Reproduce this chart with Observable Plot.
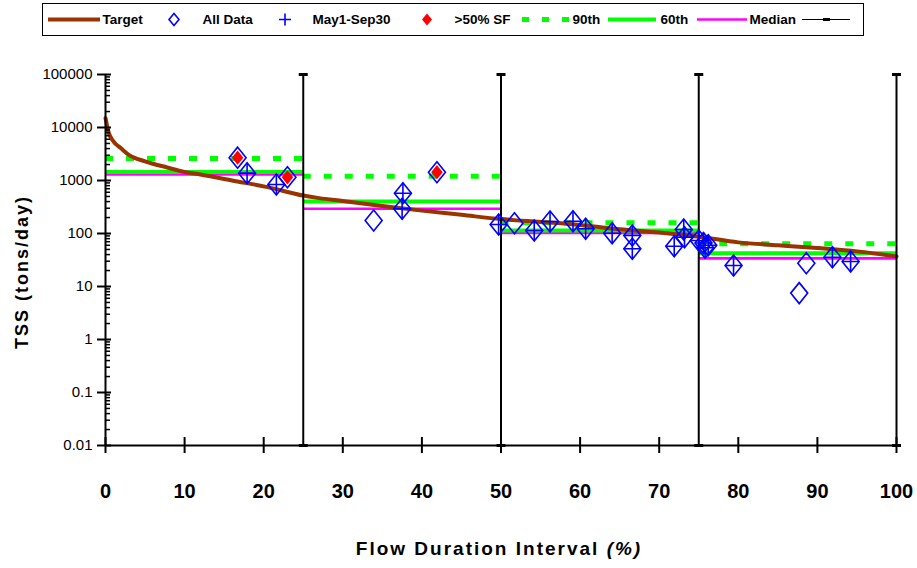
<!DOCTYPE html>
<html><head><meta charset="utf-8">
<script src="https://cdn.jsdelivr.net/npm/d3@7"></script>
<script src="https://cdn.jsdelivr.net/npm/@observablehq/plot@0.6"></script>
<style>
html,body{margin:0;padding:0;background:#fff;}
body{width:917px;height:568px;position:relative;overflow:hidden;font-family:"Liberation Sans",Arial,sans-serif;color:#000;}
#legend{position:absolute;left:42px;top:3px;width:820px;height:31px;border:1.5px solid #000;background:#fff;}
.li{position:absolute;top:0;height:31px;display:flex;align-items:center;font-weight:bold;font-size:13.5px;white-space:nowrap;}
.sw{position:absolute;top:0;}
#chart{position:absolute;left:0;top:40px;}
#xtitle{position:absolute;left:199px;width:600px;top:538px;text-align:center;font-weight:bold;font-size:19px;letter-spacing:2px;white-space:nowrap;}
#ytitle{position:absolute;left:22px;top:272px;transform:translate(-50%,-50%) rotate(-90deg);font-weight:bold;font-size:18px;letter-spacing:2px;white-space:nowrap;}
</style></head><body>
<div id="legend"></div>
<div id="chart"></div>
<div id="xtitle">Flow Duration Interval <i>(%)</i></div>
<div id="ytitle">TSS (tons/day)</div>
<script>
// ---- data ----
const xTicks = [0, 10, 20, 30, 40, 50, 60, 70, 80, 90, 100];
const yTicks = [0.01, 0.1, 1, 10, 100, 1000, 10000, 100000];
const zoneBounds = [25, 50, 75, 100];
const binStart = [0, 25, 50, 75];
const binEnd = [25, 50, 75, 100];
const p90 = [2600, 1200, 159, 64];
const p60 = [1450, 400, 114, 42.5];
const median = [1300, 293, 103, 34];
const targetFDI = [0, 0.4, 1, 2, 3, 5, 7.8, 10, 12, 16, 20.5, 25, 27, 30, 35, 40, 45, 50, 55, 60, 65, 70, 75, 80, 85, 90, 95, 100];
const targetTSS = [15000, 8000, 5500, 4000, 3000, 2300, 1760, 1450, 1300, 1000, 750, 520, 465, 410, 330, 270, 225, 187, 165, 145, 120, 104, 87, 68, 60, 53, 46, 37];
const obsFDI = [16.7, 17.9, 21.6, 23.0, 33.9, 37.6, 37.5, 41.9, 49.7, 51.7, 54.2, 56.2, 59.1, 60.7, 64.05, 66.6, 66.6, 71.9, 73.1, 73.2, 75.0, 75.6, 76.2, 75.8, 79.4, 87.7, 88.6, 91.9, 94.2];
const obsTSS = [2700, 1375, 840, 1150, 176, 576, 293, 1436, 148, 156, 114, 168, 170, 123, 101, 92, 51.5, 57.6, 119, 85, 74, 66, 60, 54, 24.9, 7.5, 27.5, 35.7, 29.6];
const obsMaySep = [0, 1, 1, 0, 0, 1, 1, 0, 1, 0, 1, 1, 1, 1, 1, 1, 1, 1, 1, 1, 1, 1, 1, 1, 1, 0, 0, 1, 1];
const obsHighSF = [1, 0, 0, 1, 0, 0, 0, 1, 0, 0, 0, 0, 0, 0, 0, 0, 0, 0, 0, 0, 0, 0, 0, 0, 0, 0, 0, 0, 0];

// ---- derived tables ----
const bins = binStart.map((s, i) => ({x1: s, x2: binEnd[i], p90: p90[i], p60: p60[i], med: median[i]}));
const target = targetFDI.map((x, i) => ({x, y: targetTSS[i]}));
const obs = obsFDI.map((x, i) => ({x, y: obsTSS[i], summer: obsMaySep[i], sf: obsHighSF[i]}));
const minorTicks = [];
for (let e = -2; e < 5; e++) for (let m = 2; m <= 9; m++) minorTicks.push(m * Math.pow(10, e));

// ---- custom symbols ----
const diamondSym = {draw(c, size) { const r = Math.sqrt(size / Math.PI); const w = r * 0.85, h = r * 1.05;
  c.moveTo(0, -h); c.lineTo(w, 0); c.lineTo(0, h); c.lineTo(-w, 0); c.closePath(); }};
const crossSym = {draw(c, size) { const r = Math.sqrt(size / Math.PI); const w = r * 0.85, h = r * 1.05;
  c.moveTo(0, -h); c.lineTo(0, h); c.moveTo(-w, 0); c.lineTo(w, 0); }};
const capSym = {draw(c, size) { const r = Math.sqrt(size / Math.PI); c.moveTo(-r, 0); c.lineTo(r, 0); }};

const BLUE = "#0000ff", RED = "#ff0000", GREEN = "#00ff00", MAG = "#ff00ff", BROWN = "#993300";

const chart = Plot.plot({
  width: 917, height: 528,
  marginLeft: 105, marginRight: 21, marginTop: 34, marginBottom: 123,
  style: {fontFamily: "'Liberation Sans', Arial, sans-serif", background: "white", color: "black", overflow: "visible"},
  x: {domain: [0, 100], axis: null},
  y: {type: "log", domain: [0.01, 100000], axis: null},
  marks: [
    Plot.ruleY(bins, {x1: "x1", x2: "x2", y: "med", stroke: MAG, strokeWidth: 2.7}),
    Plot.ruleY(bins, {x1: "x1", x2: "x2", y: "p60", stroke: GREEN, strokeWidth: 4}),
    Plot.ruleY(bins, {x1: "x1", x2: "x2", y: "p90", stroke: GREEN, strokeWidth: 5, strokeDasharray: "8,13"}),
    Plot.line(target, {x: "x", y: "y", stroke: BROWN, strokeWidth: 4, curve: "monotone-x"}),
    Plot.ruleX(zoneBounds, {y1: 0.01, y2: 100000, stroke: "black", strokeWidth: 2}),
    Plot.dot(zoneBounds, {x: d => d, y: () => 100000, symbol: capSym, r: 4.5, stroke: "black", strokeWidth: 3, fill: "none"}),
    Plot.dot(zoneBounds, {x: d => d, y: () => 0.01, symbol: capSym, r: 4.5, stroke: "black", strokeWidth: 3, fill: "none"}),
    // axes
    Plot.ruleY([0.01], {stroke: "black", strokeWidth: 2}),
    Plot.ruleX([0], {stroke: "black", strokeWidth: 2}),
    Plot.axisX({ticks: xTicks, tickSize: 8, tickPadding: 30, strokeWidth: 2, fontSize: 20, fontWeight: "bold", tickFormat: d => String(d), label: null}),
    Plot.axisX({ticks: xTicks, tickSize: 8, dy: -8, strokeWidth: 2, fill: "none", label: null}),
    Plot.axisY({ticks: yTicks, tickSize: 8, tickPadding: 5, strokeWidth: 2, fontSize: 15, tickFormat: d => String(d), label: null}),
    Plot.axisY({ticks: yTicks, tickSize: 6, dx: 6, strokeWidth: 2, fill: "none", label: null}),
    Plot.axisY({ticks: minorTicks, tickSize: 5, dx: 5, strokeWidth: 1.5, fill: "none", label: null}),
    // observations
    Plot.dot(obs, {x: "x", y: "y", symbol: diamondSym, r: 10, stroke: BLUE, strokeWidth: 1.6, fill: "none"}),
    Plot.dot(obs.filter(d => d.summer), {x: "x", y: "y", symbol: crossSym, r: 10, stroke: BLUE, strokeWidth: 1.6, fill: "none"}),
    Plot.dot(obs.filter(d => d.sf), {x: "x", y: "y", symbol: diamondSym, r: 6.8, fill: RED, stroke: "none"})
  ]
});
document.getElementById("chart").appendChild(chart);

// ---- legend ----
const NS = "http://www.w3.org/2000/svg";
function swatch(left, width, draw) {
  const s = document.createElementNS(NS, "svg");
  s.setAttribute("class", "sw"); s.setAttribute("width", width); s.setAttribute("height", 31);
  s.style.left = left + "px"; s.innerHTML = draw; return s;
}
function label(left, text) {
  const d = document.createElement("div"); d.className = "li"; d.style.left = left + "px"; d.textContent = text; return d;
}
const L = document.getElementById("legend");
const ox = 43.5, cy = 15.5;
const legendNames = ["Target", "All Data", "May1-Sep30", ">50% SF", "90th", "60th", "Median"];
L.appendChild(swatch(48 - ox, 54, `<line x1="0" x2="52" y1="${cy}" y2="${cy}" stroke="${BROWN}" stroke-width="4"/>`));
L.appendChild(label(103 - ox, legendNames[0]));
L.appendChild(swatch(166 - ox, 16, `<path d="M8,${cy-6}L13,${cy}L8,${cy+6}L3,${cy}Z" fill="none" stroke="${BLUE}" stroke-width="1.6"/>`));
L.appendChild(label(203 - ox, legendNames[1]));
L.appendChild(swatch(277 - ox, 16, `<path d="M8,${cy-6}V${cy+6}M2,${cy}H14" stroke="${BLUE}" stroke-width="1.6"/>`));
L.appendChild(label(313 - ox, legendNames[2]));
L.appendChild(swatch(419 - ox, 16, `<path d="M8,${cy-6}L13,${cy}L8,${cy+6}L3,${cy}Z" fill="${RED}"/>`));
L.appendChild(label(455 - ox, legendNames[3]));
L.appendChild(swatch(522 - ox, 50, `<line x1="0" x2="48" y1="${cy}" y2="${cy}" stroke="${GREEN}" stroke-width="5" stroke-dasharray="7,13"/>`));
L.appendChild(label(573 - ox, legendNames[4]));
L.appendChild(swatch(608 - ox, 50, `<line x1="0" x2="48" y1="${cy}" y2="${cy}" stroke="${GREEN}" stroke-width="4"/>`));
L.appendChild(label(661 - ox, legendNames[5]));
L.appendChild(swatch(697 - ox, 52, `<line x1="0" x2="50" y1="${cy}" y2="${cy}" stroke="${MAG}" stroke-width="2.5"/>`));
L.appendChild(label(750 - ox, legendNames[6]));
L.appendChild(swatch(802 - ox, 50, `<line x1="0" x2="48" y1="${cy}" y2="${cy}" stroke="black" stroke-width="1.2"/><line x1="21" x2="28" y1="${cy}" y2="${cy}" stroke="black" stroke-width="3"/>`));
</script>
</body></html>
